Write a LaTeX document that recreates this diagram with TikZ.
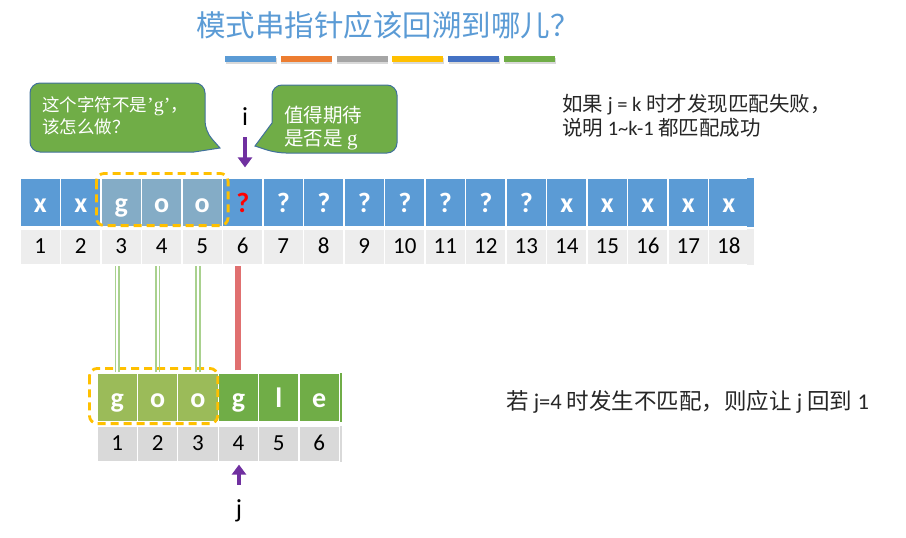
\documentclass[tikz,border=0pt]{standalone}
\usepackage{fontspec}
\setmainfont{Carlito}
\newfontfamily\cjk{Noto Sans CJK SC}
\newfontfamily\quotefont{Liberation Serif}
\usetikzlibrary{arrows.meta, positioning, shadows}
\definecolor{txtblue}{RGB}{91,155,213}
\definecolor{matchblue}{RGB}{132,172,198}
\definecolor{pgreen}{RGB}{112,173,71}
\definecolor{lgreen}{RGB}{155,187,89}
\definecolor{boxgold}{RGB}{255,192,0}
\definecolor{ptrpurple}{RGB}{112,48,160}
\definecolor{barorange}{RGB}{237,125,49}
\definecolor{bargray}{RGB}{165,165,165}
\definecolor{bardark}{RGB}{68,114,196}
\definecolor{edgeblue}{RGB}{65,113,156}
\definecolor{numgray}{RGB}{237,237,237}
\definecolor{pnumgray}{RGB}{217,217,217}
\definecolor{failred}{RGB}{224,112,112}
\definecolor{linkgreen}{RGB}{169,209,142}

\begin{document}
\begin{tikzpicture}[x=1pt, y=-1pt,
    scell/.style={rectangle, draw=white, line width=1.2pt, fill=txtblue,
                  minimum width=40.5pt, minimum height=49pt, inner sep=0pt,
                  text=white, text height=22pt, text depth=3pt,
                  font=\fontsize{28}{32}\selectfont\bfseries},
    snum/.style={rectangle, draw=white, line width=1.2pt, fill=numgray,
                 minimum width=40.5pt, minimum height=36pt, inner sep=0pt,
                 text height=15pt, text depth=3pt, font=\fontsize{23}{26}\selectfont},
    sx/.style={},
    sm/.style={fill=matchblue},
    sr/.style={text=red},
    pcell/.style={scell, fill=pgreen, minimum width=40.4pt},
    pm/.style={fill=lgreen},
    px/.style={},
    pnum/.style={snum, fill=pnumgray, minimum width=40.4pt},
    goldbox/.style={draw=boxgold, line width=2.8pt, dash pattern=on 8pt off 5pt,
                    rounded corners=8pt},
    link/.style={draw=linkgreen, line width=1.8pt},
    ptr/.style={inner sep=0pt, text height=15pt, text depth=5pt,
                font=\fontsize{26}{30}\selectfont},
    ptrarrow/.style={draw=ptrpurple, line width=4pt,
                     -{Triangle[width=14pt,length=10pt]}},
    callout/.style={fill=pgreen, draw=edgeblue, line width=1pt},
    calltxt/.style={text=white, align=left, inner sep=0pt},
    note/.style={text=black!85, align=left, inner sep=0pt,
                 font=\fontsize{20.5}{24}\selectfont}]

\useasboundingbox (0,0) rectangle (906,538);

%% Title and colour bars
\node[font=\cjk\fontsize{29.5}{33}\selectfont, text=txtblue] (title) at (388,25)
    {模式串指针应该回溯到哪儿？};
\foreach \c [count=\k from 0] in {txtblue,barorange,bargray,boxgold,bardark,pgreen}
    \fill[\c, drop shadow={opacity=0.3, shadow xshift=0.5pt, shadow yshift=-1.5pt}]
        ({225+55.8*\k},56) rectangle +(51,6);

%% Main string
\foreach \t/\s [count=\k] in {x/sx,x/sx,g/sm,o/sm,o/sm,?/sr,?/sx,?/sx,?/sx,?/sx,?/sx,
                              ?/sx,?/sx,x/sx,x/sx,x/sx,x/sx,x/sx}
{
    \node[scell,\s] (s\k) at ({20+40.5*(\k-0.5)},202.5) {\t};
    \node[snum] (n\k) at ({20+40.5*(\k-0.5)},247) {\k};
}
\fill[txtblue] (747,178) rectangle (754,227);
\fill[numgray] (747,229) rectangle (754,265);

%% Pattern string
\foreach \t/\s [count=\k] in {g/pm,o/pm,o/pm,g/px,l/px,e/px}
{
    \node[pcell,\s] (p\k) at ({97+40.4*(\k-0.5)},397.5) {\t};
    \node[pnum] (q\k) at ({97+40.4*(\k-0.5)},444) {\k};
}
\fill[pgreen] (339.5,373) rectangle (342,422);
\fill[pnumgray] (339.5,426) rectangle (342,462);

%% Matched prefix
\draw[goldbox] ([xshift=-4pt,yshift=4pt]s3.north west) rectangle ([xshift=5pt,yshift=2pt]s5.south east);
\draw[goldbox] ([xshift=-7pt,yshift=4pt]p1.north west) rectangle ([xshift=-1pt,yshift=-1pt]p3.south east);

%% Links between the strings
\foreach \k/\m in {1/3,2/4,3/5}
{
    \draw[link] ([xshift=-1.8pt]p\k.north) -- ([xshift=-1.8pt]p\k.north |- n\m.south);
    \draw[link] ([xshift=1.8pt]p\k.north) -- ([xshift=1.8pt]p\k.north |- n\m.south);
}
\draw[failred, line width=6pt] ([yshift=2pt]p4.north) -- (p4.north |- n6.south);

%% Pointers
\node[ptr] (ilbl) at (245,120) {i};
\draw[ptrarrow, shorten <=7pt, shorten >=10pt] (ilbl.south) -- (ilbl.south |- s6.north);
\node[ptr] (jlbl) at (239,512) {j};
\draw[ptrarrow, shorten <=17pt, shorten >=2pt] (jlbl.north) -- (jlbl.north |- q4.south);

%% Callouts
\draw[callout] [rounded corners=10pt] (118,83) -- (205,83) -- (205,131)
    [sharp corners] -- (220,148) -- (194,152) [rounded corners=10pt] -- (30,152)
    -- (30,83) -- cycle;
\node[calltxt, anchor=west, font=\cjk\fontsize{17.5}{21.5}\selectfont] (ask) at (42,116)
    {这个字符不是{\quotefont\fontsize{20}{21.5}\selectfont ’g’}，\\该怎么做？};
\draw[callout] [rounded corners=10pt] (335,85) -- (397,85) -- (397,153) -- (276,153)
    [sharp corners] -- (255,146) -- (272,123) [rounded corners=10pt] -- (272,85)
    -- cycle;
\node[calltxt, anchor=west, font=\cjk\fontsize{19.5}{23}\selectfont] (hope) at (284,128.5)
    {值得期待\\是否是 {\quotefont\fontsize{21}{23}\selectfont g}};

%% Notes
\node[note, anchor=west] (cond) at (562,116)
    {{\cjk 如果} j = k {\cjk 时才发现匹配失败，}\\{\cjk 说明} 1\textasciitilde k-1 {\cjk 都匹配成功}};
\node[note, anchor=west, font=\fontsize{22.5}{26}\selectfont] (reset) at (506,402)
    {{\cjk 若} j=4 {\cjk 时发生不匹配，则应让} j {\cjk 回到} 1};

\end{tikzpicture}
\end{document}
